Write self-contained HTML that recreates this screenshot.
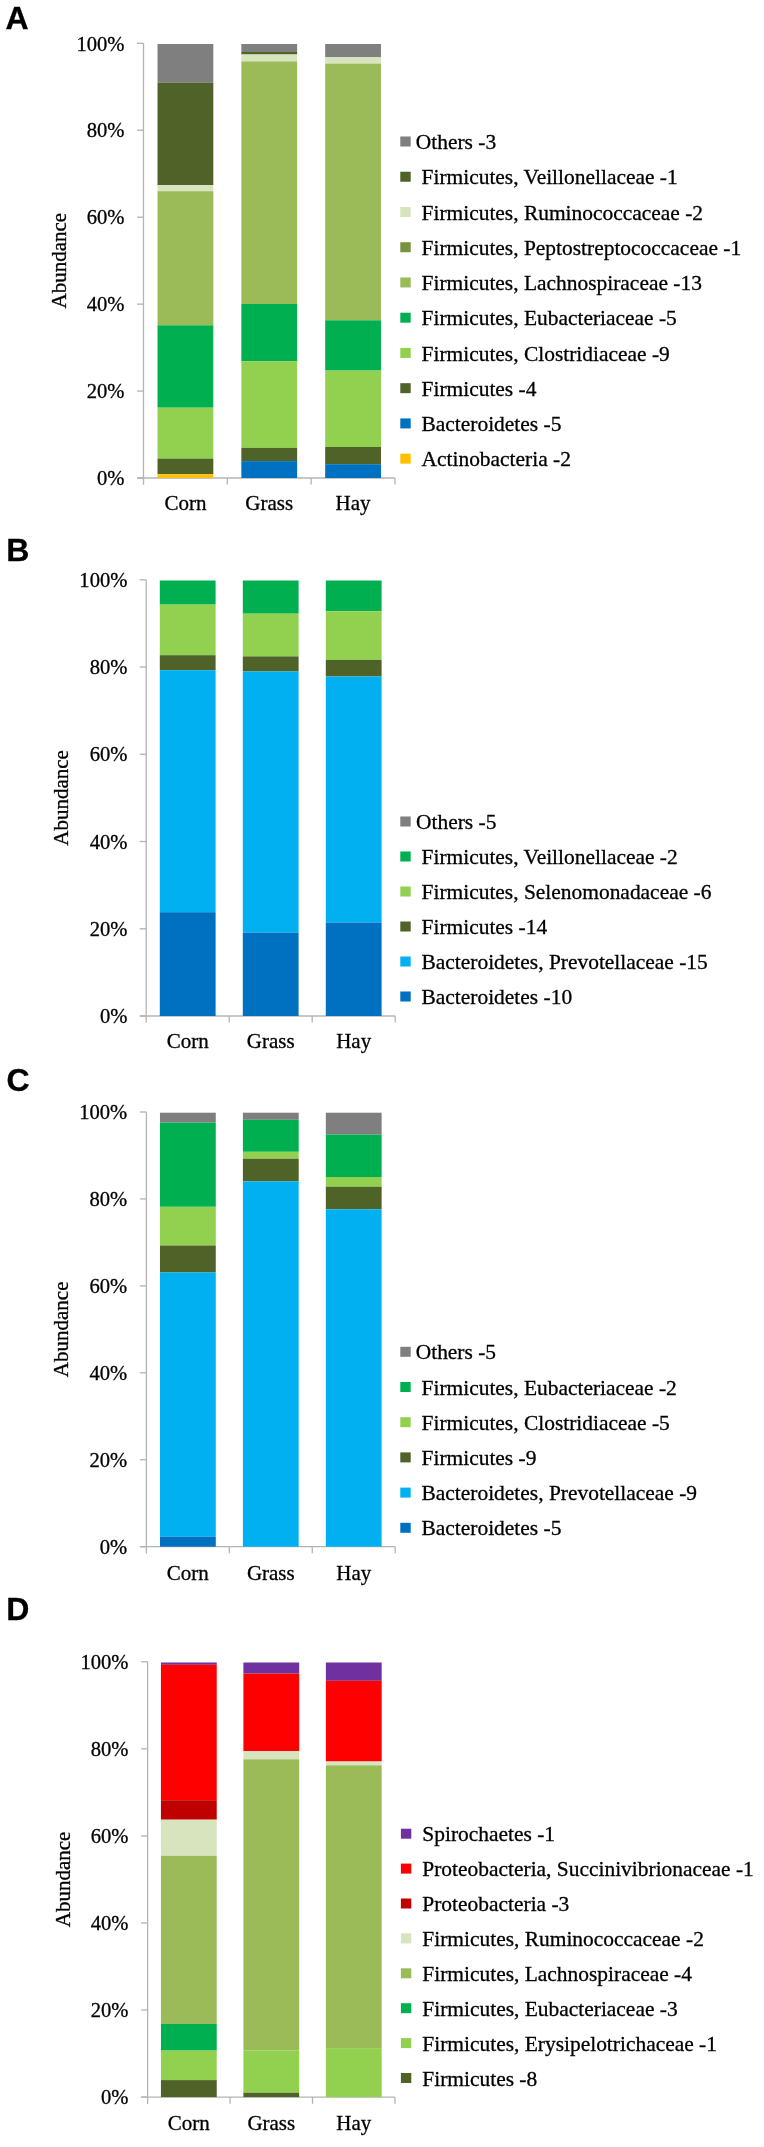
<!DOCTYPE html>
<html><head><meta charset="utf-8"><style>
html,body{margin:0;padding:0;background:#fff;}
body{width:764px;height:2147px;overflow:hidden;}
svg{display:block;will-change:transform;}
text{font-family:"Liberation Serif",serif;fill:#000;stroke:#000;stroke-width:0.3px;}
.let{font-family:"Liberation Sans",sans-serif;font-weight:bold;font-size:32px;}
.tk{font-size:20.6px;text-anchor:end;}
.cat{font-size:21.0px;text-anchor:middle;}
.lg{font-size:21.45px;}
.ab{font-size:21.0px;text-anchor:middle;}
.ax{stroke:#B4B4B4;stroke-width:1.3;}
</style></head><body>
<svg width="764" height="2147" viewBox="0 0 764 2147">
<rect width="764" height="2147" fill="#fff"/>
<text x="5.4" y="28.6" class="let">A</text>
<line x1="143.5" y1="43.3" x2="143.5" y2="484.8" class="ax"/>
<line x1="137.0" y1="478.0" x2="395.0" y2="478.0" class="ax"/>
<line x1="137.0" y1="43.30" x2="143.5" y2="43.30" class="ax"/>
<text x="124.5" y="50.50" class="tk">100%</text>
<line x1="137.0" y1="130.24" x2="143.5" y2="130.24" class="ax"/>
<text x="124.5" y="137.44" class="tk">80%</text>
<line x1="137.0" y1="217.18" x2="143.5" y2="217.18" class="ax"/>
<text x="124.5" y="224.38" class="tk">60%</text>
<line x1="137.0" y1="304.12" x2="143.5" y2="304.12" class="ax"/>
<text x="124.5" y="311.32" class="tk">40%</text>
<line x1="137.0" y1="391.06" x2="143.5" y2="391.06" class="ax"/>
<text x="124.5" y="398.26" class="tk">20%</text>
<line x1="137.0" y1="478.00" x2="143.5" y2="478.00" class="ax"/>
<text x="124.5" y="485.20" class="tk">0%</text>
<line x1="227.33" y1="478.0" x2="227.33" y2="484.6" class="ax"/>
<line x1="311.17" y1="478.0" x2="311.17" y2="484.6" class="ax"/>
<line x1="395.00" y1="478.0" x2="395.00" y2="484.6" class="ax"/>
<text x="65.8" y="260.65" class="ab" transform="rotate(-90 65.8 260.65)">Abundance</text>
<rect x="157.52" y="44.0" width="55.8" height="38.80" fill="#7F7F7F"/>
<rect x="157.52" y="82.8" width="55.8" height="102.40" fill="#4F6228"/>
<rect x="157.52" y="185.2" width="55.8" height="6.00" fill="#D7E4BD"/>
<rect x="157.52" y="191.2" width="55.8" height="134.10" fill="#9BBB59"/>
<rect x="157.52" y="325.3" width="55.8" height="82.40" fill="#00B050"/>
<rect x="157.52" y="407.7" width="55.8" height="50.90" fill="#92D050"/>
<rect x="157.52" y="458.6" width="55.8" height="15.70" fill="#4F6228"/>
<rect x="157.52" y="474.3" width="55.8" height="3.70" fill="#FFC000"/>
<text x="185.42" y="510.0" class="cat">Corn</text>
<rect x="241.35" y="44.0" width="55.8" height="8.00" fill="#7F7F7F"/>
<rect x="241.35" y="52.0" width="55.8" height="2.50" fill="#4F6228"/>
<rect x="241.35" y="54.5" width="55.8" height="6.90" fill="#D7E4BD"/>
<rect x="241.35" y="61.4" width="55.8" height="242.60" fill="#9BBB59"/>
<rect x="241.35" y="304.0" width="55.8" height="57.20" fill="#00B050"/>
<rect x="241.35" y="361.2" width="55.8" height="86.70" fill="#92D050"/>
<rect x="241.35" y="447.9" width="55.8" height="13.20" fill="#4F6228"/>
<rect x="241.35" y="461.1" width="55.8" height="16.90" fill="#0070C0"/>
<text x="269.25" y="510.0" class="cat">Grass</text>
<rect x="325.18" y="44.0" width="55.8" height="13.30" fill="#7F7F7F"/>
<rect x="325.18" y="57.3" width="55.8" height="6.30" fill="#D7E4BD"/>
<rect x="325.18" y="63.6" width="55.8" height="256.70" fill="#9BBB59"/>
<rect x="325.18" y="320.3" width="55.8" height="50.30" fill="#00B050"/>
<rect x="325.18" y="370.6" width="55.8" height="76.40" fill="#92D050"/>
<rect x="325.18" y="447.0" width="55.8" height="17.20" fill="#4F6228"/>
<rect x="325.18" y="464.2" width="55.8" height="13.80" fill="#0070C0"/>
<text x="353.08" y="510.0" class="cat">Hay</text>
<rect x="400.3" y="136.50" width="10.4" height="10" fill="#7F7F7F"/>
<text x="415.8" y="149.10" class="lg">Others -3</text>
<rect x="400.3" y="171.74" width="10.4" height="10" fill="#4F6228"/>
<text x="421.5" y="184.34" class="lg">Firmicutes, Veillonellaceae -1</text>
<rect x="400.3" y="206.98" width="10.4" height="10" fill="#D7E4BD"/>
<text x="421.5" y="219.58" class="lg">Firmicutes, Ruminococcaceae -2</text>
<rect x="400.3" y="242.22" width="10.4" height="10" fill="#77933C"/>
<text x="421.5" y="254.82" class="lg">Firmicutes, Peptostreptococcaceae -1</text>
<rect x="400.3" y="277.46" width="10.4" height="10" fill="#9BBB59"/>
<text x="421.5" y="290.06" class="lg">Firmicutes, Lachnospiraceae -13</text>
<rect x="400.3" y="312.70" width="10.4" height="10" fill="#00B050"/>
<text x="421.5" y="325.30" class="lg">Firmicutes, Eubacteriaceae -5</text>
<rect x="400.3" y="347.94" width="10.4" height="10" fill="#92D050"/>
<text x="421.5" y="360.54" class="lg">Firmicutes, Clostridiaceae -9</text>
<rect x="400.3" y="383.18" width="10.4" height="10" fill="#4F6228"/>
<text x="421.5" y="395.78" class="lg">Firmicutes -4</text>
<rect x="400.3" y="418.42" width="10.4" height="10" fill="#0070C0"/>
<text x="421.5" y="431.02" class="lg">Bacteroidetes -5</text>
<rect x="400.3" y="453.66" width="10.4" height="10" fill="#FFC000"/>
<text x="421.5" y="466.26" class="lg">Actinobacteria -2</text>
<text x="6.2" y="561.2" class="let">B</text>
<line x1="146.2" y1="579.8" x2="146.2" y2="1022.8" class="ax"/>
<line x1="139.7" y1="1016.0" x2="395.2" y2="1016.0" class="ax"/>
<line x1="139.7" y1="579.80" x2="146.2" y2="579.80" class="ax"/>
<text x="127.4" y="587.00" class="tk">100%</text>
<line x1="139.7" y1="667.04" x2="146.2" y2="667.04" class="ax"/>
<text x="127.4" y="674.24" class="tk">80%</text>
<line x1="139.7" y1="754.28" x2="146.2" y2="754.28" class="ax"/>
<text x="127.4" y="761.48" class="tk">60%</text>
<line x1="139.7" y1="841.52" x2="146.2" y2="841.52" class="ax"/>
<text x="127.4" y="848.72" class="tk">40%</text>
<line x1="139.7" y1="928.76" x2="146.2" y2="928.76" class="ax"/>
<text x="127.4" y="935.96" class="tk">20%</text>
<line x1="139.7" y1="1016.00" x2="146.2" y2="1016.00" class="ax"/>
<text x="127.4" y="1023.20" class="tk">0%</text>
<line x1="229.20" y1="1016.0" x2="229.20" y2="1022.6" class="ax"/>
<line x1="312.20" y1="1016.0" x2="312.20" y2="1022.6" class="ax"/>
<line x1="395.20" y1="1016.0" x2="395.20" y2="1022.6" class="ax"/>
<text x="68.3" y="797.90" class="ab" transform="rotate(-90 68.3 797.90)">Abundance</text>
<rect x="159.80" y="580.5" width="55.8" height="24.10" fill="#00B050"/>
<rect x="159.80" y="604.6" width="55.8" height="50.60" fill="#92D050"/>
<rect x="159.80" y="655.2" width="55.8" height="15.00" fill="#4F6228"/>
<rect x="159.80" y="670.2" width="55.8" height="242.00" fill="#00B0F0"/>
<rect x="159.80" y="912.2" width="55.8" height="103.80" fill="#0070C0"/>
<text x="187.70" y="1048.2" class="cat">Corn</text>
<rect x="242.80" y="580.5" width="55.8" height="33.20" fill="#00B050"/>
<rect x="242.80" y="613.7" width="55.8" height="42.70" fill="#92D050"/>
<rect x="242.80" y="656.4" width="55.8" height="15.10" fill="#4F6228"/>
<rect x="242.80" y="671.5" width="55.8" height="261.10" fill="#00B0F0"/>
<rect x="242.80" y="932.6" width="55.8" height="83.40" fill="#0070C0"/>
<text x="270.70" y="1048.2" class="cat">Grass</text>
<rect x="325.80" y="580.5" width="55.8" height="30.70" fill="#00B050"/>
<rect x="325.80" y="611.2" width="55.8" height="48.70" fill="#92D050"/>
<rect x="325.80" y="659.9" width="55.8" height="16.60" fill="#4F6228"/>
<rect x="325.80" y="676.5" width="55.8" height="246.00" fill="#00B0F0"/>
<rect x="325.80" y="922.5" width="55.8" height="93.50" fill="#0070C0"/>
<text x="353.70" y="1048.2" class="cat">Hay</text>
<rect x="400.3" y="816.50" width="10.4" height="10" fill="#7F7F7F"/>
<text x="416.0" y="829.10" class="lg">Others -5</text>
<rect x="400.3" y="851.50" width="10.4" height="10" fill="#00B050"/>
<text x="421.5" y="864.10" class="lg">Firmicutes, Veillonellaceae -2</text>
<rect x="400.3" y="886.50" width="10.4" height="10" fill="#92D050"/>
<text x="421.5" y="899.10" class="lg">Firmicutes, Selenomonadaceae -6</text>
<rect x="400.3" y="921.50" width="10.4" height="10" fill="#4F6228"/>
<text x="421.5" y="934.10" class="lg">Firmicutes -14</text>
<rect x="400.3" y="956.50" width="10.4" height="10" fill="#00B0F0"/>
<text x="421.5" y="969.10" class="lg">Bacteroidetes, Prevotellaceae -15</text>
<rect x="400.3" y="991.50" width="10.4" height="10" fill="#0070C0"/>
<text x="421.5" y="1004.10" class="lg">Bacteroidetes -10</text>
<text x="6.4" y="1091.0" class="let">C</text>
<line x1="146.4" y1="1112.0" x2="146.4" y2="1553.5" class="ax"/>
<line x1="139.9" y1="1546.7" x2="395.2" y2="1546.7" class="ax"/>
<line x1="139.9" y1="1112.00" x2="146.4" y2="1112.00" class="ax"/>
<text x="127.2" y="1119.20" class="tk">100%</text>
<line x1="139.9" y1="1198.94" x2="146.4" y2="1198.94" class="ax"/>
<text x="127.2" y="1206.14" class="tk">80%</text>
<line x1="139.9" y1="1285.88" x2="146.4" y2="1285.88" class="ax"/>
<text x="127.2" y="1293.08" class="tk">60%</text>
<line x1="139.9" y1="1372.82" x2="146.4" y2="1372.82" class="ax"/>
<text x="127.2" y="1380.02" class="tk">40%</text>
<line x1="139.9" y1="1459.76" x2="146.4" y2="1459.76" class="ax"/>
<text x="127.2" y="1466.96" class="tk">20%</text>
<line x1="139.9" y1="1546.70" x2="146.4" y2="1546.70" class="ax"/>
<text x="127.2" y="1553.90" class="tk">0%</text>
<line x1="229.33" y1="1546.7" x2="229.33" y2="1553.3" class="ax"/>
<line x1="312.27" y1="1546.7" x2="312.27" y2="1553.3" class="ax"/>
<line x1="395.20" y1="1546.7" x2="395.20" y2="1553.3" class="ax"/>
<text x="68.5" y="1329.35" class="ab" transform="rotate(-90 68.5 1329.35)">Abundance</text>
<rect x="159.97" y="1112.7" width="55.8" height="9.90" fill="#7F7F7F"/>
<rect x="159.97" y="1122.6" width="55.8" height="84.20" fill="#00B050"/>
<rect x="159.97" y="1206.8" width="55.8" height="38.70" fill="#92D050"/>
<rect x="159.97" y="1245.5" width="55.8" height="27.00" fill="#4F6228"/>
<rect x="159.97" y="1272.5" width="55.8" height="264.20" fill="#00B0F0"/>
<rect x="159.97" y="1536.7" width="55.8" height="10.00" fill="#0070C0"/>
<text x="187.87" y="1579.6" class="cat">Corn</text>
<rect x="242.90" y="1112.7" width="55.8" height="7.10" fill="#7F7F7F"/>
<rect x="242.90" y="1119.8" width="55.8" height="32.00" fill="#00B050"/>
<rect x="242.90" y="1151.8" width="55.8" height="6.90" fill="#92D050"/>
<rect x="242.90" y="1158.7" width="55.8" height="22.70" fill="#4F6228"/>
<rect x="242.90" y="1181.4" width="55.8" height="365.30" fill="#00B0F0"/>
<text x="270.80" y="1579.6" class="cat">Grass</text>
<rect x="325.83" y="1112.7" width="55.8" height="21.90" fill="#7F7F7F"/>
<rect x="325.83" y="1134.6" width="55.8" height="42.40" fill="#00B050"/>
<rect x="325.83" y="1177.0" width="55.8" height="9.70" fill="#92D050"/>
<rect x="325.83" y="1186.7" width="55.8" height="22.60" fill="#4F6228"/>
<rect x="325.83" y="1209.3" width="55.8" height="337.40" fill="#00B0F0"/>
<text x="353.73" y="1579.6" class="cat">Hay</text>
<rect x="400.3" y="1346.80" width="10.4" height="10" fill="#7F7F7F"/>
<text x="415.7" y="1359.40" class="lg">Others -5</text>
<rect x="400.3" y="1382.00" width="10.4" height="10" fill="#00B050"/>
<text x="421.5" y="1394.60" class="lg">Firmicutes, Eubacteriaceae -2</text>
<rect x="400.3" y="1417.20" width="10.4" height="10" fill="#92D050"/>
<text x="421.5" y="1429.80" class="lg">Firmicutes, Clostridiaceae -5</text>
<rect x="400.3" y="1452.40" width="10.4" height="10" fill="#4F6228"/>
<text x="421.5" y="1465.00" class="lg">Firmicutes -9</text>
<rect x="400.3" y="1487.60" width="10.4" height="10" fill="#00B0F0"/>
<text x="421.5" y="1500.20" class="lg">Bacteroidetes, Prevotellaceae -9</text>
<rect x="400.3" y="1522.80" width="10.4" height="10" fill="#0070C0"/>
<text x="421.5" y="1535.40" class="lg">Bacteroidetes -5</text>
<text x="6.3" y="1619.5" class="let">D</text>
<line x1="147.6" y1="1661.8" x2="147.6" y2="2103.9" class="ax"/>
<line x1="141.1" y1="2097.1" x2="395.0" y2="2097.1" class="ax"/>
<line x1="141.1" y1="1661.80" x2="147.6" y2="1661.80" class="ax"/>
<text x="128.5" y="1669.00" class="tk">100%</text>
<line x1="141.1" y1="1748.86" x2="147.6" y2="1748.86" class="ax"/>
<text x="128.5" y="1756.06" class="tk">80%</text>
<line x1="141.1" y1="1835.92" x2="147.6" y2="1835.92" class="ax"/>
<text x="128.5" y="1843.12" class="tk">60%</text>
<line x1="141.1" y1="1922.98" x2="147.6" y2="1922.98" class="ax"/>
<text x="128.5" y="1930.18" class="tk">40%</text>
<line x1="141.1" y1="2010.04" x2="147.6" y2="2010.04" class="ax"/>
<text x="128.5" y="2017.24" class="tk">20%</text>
<line x1="141.1" y1="2097.10" x2="147.6" y2="2097.10" class="ax"/>
<text x="128.5" y="2104.30" class="tk">0%</text>
<line x1="230.07" y1="2097.1" x2="230.07" y2="2103.7" class="ax"/>
<line x1="312.53" y1="2097.1" x2="312.53" y2="2103.7" class="ax"/>
<line x1="395.00" y1="2097.1" x2="395.00" y2="2103.7" class="ax"/>
<text x="69.7" y="1879.45" class="ab" transform="rotate(-90 69.7 1879.45)">Abundance</text>
<rect x="160.93" y="1662.5" width="55.8" height="2.30" fill="#7030A0"/>
<rect x="160.93" y="1664.8" width="55.8" height="135.40" fill="#FF0000"/>
<rect x="160.93" y="1800.2" width="55.8" height="19.50" fill="#C00000"/>
<rect x="160.93" y="1819.7" width="55.8" height="36.10" fill="#D7E4BD"/>
<rect x="160.93" y="1855.8" width="55.8" height="168.10" fill="#9BBB59"/>
<rect x="160.93" y="2023.9" width="55.8" height="26.70" fill="#00B050"/>
<rect x="160.93" y="2050.6" width="55.8" height="29.50" fill="#92D050"/>
<rect x="160.93" y="2080.1" width="55.8" height="17.00" fill="#4F6228"/>
<text x="188.83" y="2130.0" class="cat">Corn</text>
<rect x="243.40" y="1662.5" width="55.8" height="11.10" fill="#7030A0"/>
<rect x="243.40" y="1673.6" width="55.8" height="77.60" fill="#FF0000"/>
<rect x="243.40" y="1751.2" width="55.8" height="8.10" fill="#D7E4BD"/>
<rect x="243.40" y="1759.3" width="55.8" height="291.00" fill="#9BBB59"/>
<rect x="243.40" y="2050.3" width="55.8" height="42.40" fill="#92D050"/>
<rect x="243.40" y="2092.7" width="55.8" height="4.40" fill="#4F6228"/>
<text x="271.30" y="2130.0" class="cat">Grass</text>
<rect x="325.87" y="1662.5" width="55.8" height="18.30" fill="#7030A0"/>
<rect x="325.87" y="1680.8" width="55.8" height="80.70" fill="#FF0000"/>
<rect x="325.87" y="1761.5" width="55.8" height="3.80" fill="#D7E4BD"/>
<rect x="325.87" y="1765.3" width="55.8" height="282.80" fill="#9BBB59"/>
<rect x="325.87" y="2048.1" width="55.8" height="49.00" fill="#92D050"/>
<text x="353.77" y="2130.0" class="cat">Hay</text>
<rect x="400.9" y="1828.70" width="10.4" height="10" fill="#7030A0"/>
<text x="422.3" y="1841.30" class="lg">Spirochaetes -1</text>
<rect x="400.9" y="1863.60" width="10.4" height="10" fill="#FF0000"/>
<text x="422.3" y="1876.20" class="lg">Proteobacteria, Succinivibrionaceae -1</text>
<rect x="400.9" y="1898.50" width="10.4" height="10" fill="#C00000"/>
<text x="422.3" y="1911.10" class="lg">Proteobacteria -3</text>
<rect x="400.9" y="1933.40" width="10.4" height="10" fill="#D7E4BD"/>
<text x="422.3" y="1946.00" class="lg">Firmicutes, Ruminococcaceae -2</text>
<rect x="400.9" y="1968.30" width="10.4" height="10" fill="#9BBB59"/>
<text x="422.3" y="1980.90" class="lg">Firmicutes, Lachnospiraceae -4</text>
<rect x="400.9" y="2003.20" width="10.4" height="10" fill="#00B050"/>
<text x="422.3" y="2015.80" class="lg">Firmicutes, Eubacteriaceae -3</text>
<rect x="400.9" y="2038.10" width="10.4" height="10" fill="#92D050"/>
<text x="422.3" y="2050.70" class="lg">Firmicutes, Erysipelotrichaceae -1</text>
<rect x="400.9" y="2073.00" width="10.4" height="10" fill="#4F6228"/>
<text x="422.3" y="2085.60" class="lg">Firmicutes -8</text>
</svg>
</body></html>
